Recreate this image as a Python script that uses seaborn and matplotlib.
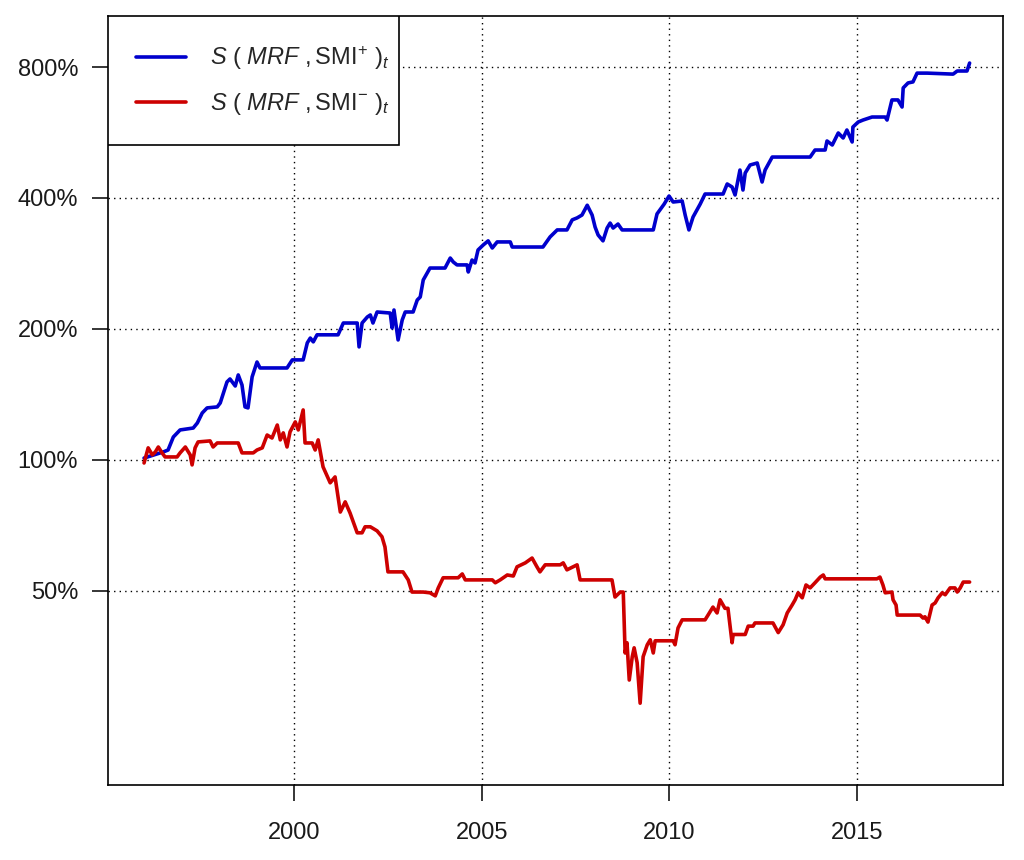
import matplotlib
matplotlib.use("Agg")
import matplotlib.pyplot as plt
from matplotlib.patches import Rectangle
from matplotlib.ticker import NullLocator
import pandas as pd
import seaborn as sns

# cumulative value of the two strategies, in percent of the starting value
plus_years = [1996.00, 1996.51, 1996.64, 1996.78, 1996.96, 1997.31, 1997.42, 1997.55, 1997.68, 1997.95,
              1998.03, 1998.21, 1998.29, 1998.43, 1998.51, 1998.61, 1998.69, 1998.77, 1998.88, 1999.01,
              1999.09, 1999.81, 1999.95, 2000.24, 2000.35, 2000.43, 2000.51, 2000.61, 2001.17, 2001.31,
              2001.68, 2001.73, 2001.81, 2001.95, 2002.03, 2002.10, 2002.21, 2002.56, 2002.61, 2002.66,
              2002.77, 2002.88, 2002.96, 2003.17, 2003.28, 2003.36, 2003.44, 2003.62, 2004.02, 2004.16,
              2004.24, 2004.34, 2004.61, 2004.64, 2004.74, 2004.82, 2004.90, 2005.04, 2005.17, 2005.28,
              2005.41, 2005.76, 2005.81, 2006.63, 2006.82, 2007.01, 2007.27, 2007.41, 2007.54, 2007.67,
              2007.81, 2007.94, 2008.02, 2008.10, 2008.23, 2008.34, 2008.42, 2008.50, 2008.63, 2008.74,
              2009.57, 2009.67, 2009.86, 2009.99, 2010.10, 2010.34, 2010.42, 2010.52, 2010.63, 2010.82,
              2010.95, 2011.43, 2011.54, 2011.67, 2011.75, 2011.88, 2011.96, 2012.02, 2012.15, 2012.34,
              2012.47, 2012.55, 2012.74, 2013.75, 2013.88, 2014.15, 2014.20, 2014.34, 2014.50, 2014.63,
              2014.73, 2014.87, 2014.89, 2015.03, 2015.16, 2015.40, 2015.75, 2015.80, 2015.93, 2016.09,
              2016.20, 2016.23, 2016.36, 2016.49, 2016.60, 2016.87, 2017.56, 2017.67, 2017.93, 2018.00]
plus_values = [101.0, 104.3, 105.4, 112.9, 117.2, 118.4, 121.6, 128.2, 131.7, 132.4,
               135.2, 151.1, 153.5, 147.9, 156.8, 148.7, 132.4, 131.7, 155.2, 167.9,
               162.7, 162.7, 169.8, 169.8, 185.8, 190.6, 186.8, 193.9, 193.9, 206.4,
               206.4, 181.9, 206.4, 213.1, 215.4, 206.4, 218.8, 217.6, 201.1, 221.1,
               188.7, 209.8, 218.8, 218.8, 233.1, 236.9, 259.2, 276.1, 276.1, 291.1,
               285.1, 280.7, 280.7, 270.4, 288.1, 283.6, 303.8, 312.0, 318.8, 307.0,
               317.0, 317.0, 308.6, 308.6, 325.5, 337.8, 337.8, 356.3, 360.0, 365.5,
               384.9, 365.5, 342.9, 328.9, 318.8, 341.2, 350.3, 341.2, 348.5, 337.8,
               337.8, 367.7, 387.3, 404.2, 391.6, 393.7, 365.5, 337.8, 361.7, 387.3,
               408.5, 408.5, 430.8, 424.0, 406.4, 463.8, 417.2, 456.6, 476.3, 481.4,
               435.3, 463.8, 496.8, 496.8, 515.6, 515.6, 540.9, 529.5, 564.3, 549.5,
               573.2, 538.0, 582.3, 597.9, 604.3, 614.0, 614.0, 604.3, 672.1, 672.1,
               647.4, 716.2, 735.4, 739.3, 774.6, 774.6, 770.5, 783.3, 783.3, 817.0]

minus_years = [1996.00, 1996.11, 1996.22, 1996.30, 1996.38, 1996.48, 1996.56, 1996.88, 1996.96, 1997.10,
               1997.23, 1997.28, 1997.36, 1997.44, 1997.76, 1997.84, 1997.95, 1998.51, 1998.61, 1998.91,
               1999.01, 1999.15, 1999.28, 1999.41, 1999.55, 1999.63, 1999.71, 1999.81, 1999.89, 2000.03,
               2000.11, 2000.24, 2000.29, 2000.48, 2000.56, 2000.64, 2000.77, 2000.96, 2001.09, 2001.23,
               2001.36, 2001.49, 2001.68, 2001.81, 2001.89, 2002.03, 2002.21, 2002.34, 2002.42, 2002.50,
               2002.90, 2003.04, 2003.14, 2003.44, 2003.62, 2003.76, 2003.84, 2003.97, 2004.37, 2004.48,
               2004.56, 2005.28, 2005.36, 2005.49, 2005.68, 2005.84, 2005.94, 2006.16, 2006.34, 2006.47,
               2006.55, 2006.69, 2007.09, 2007.17, 2007.27, 2007.54, 2007.62, 2008.47, 2008.55, 2008.69,
               2008.77, 2008.82, 2008.87, 2008.93, 2009.01, 2009.06, 2009.14, 2009.22, 2009.30, 2009.41,
               2009.49, 2009.57, 2009.62, 2010.10, 2010.15, 2010.23, 2010.34, 2010.95, 2011.03, 2011.16,
               2011.27, 2011.35, 2011.48, 2011.56, 2011.67, 2011.70, 2012.02, 2012.10, 2012.23, 2012.28,
               2012.76, 2012.90, 2013.03, 2013.14, 2013.27, 2013.35, 2013.43, 2013.54, 2013.64, 2013.75,
               2013.88, 2014.02, 2014.10, 2014.15, 2015.53, 2015.61, 2015.69, 2015.75, 2015.93, 2015.96,
               2016.04, 2016.07, 2016.68, 2016.76, 2016.81, 2016.89, 2017.00, 2017.08, 2017.16, 2017.27,
               2017.35, 2017.48, 2017.61, 2017.67, 2017.75, 2017.83, 2018.00]
minus_values = [98.4, 106.6, 102.7, 104.3, 107.1, 103.8, 101.6, 101.6, 103.8, 107.1,
                102.7, 97.4, 106.6, 110.0, 110.6, 107.1, 109.4, 109.4, 103.8, 103.8,
                105.4, 106.6, 114.1, 112.3, 120.3, 111.2, 115.4, 107.1, 116.0, 122.3,
                117.2, 130.3, 109.4, 109.4, 105.4, 111.2, 96.4, 88.6, 91.4, 75.9,
                80.1, 75.5, 68.0, 68.0, 70.2, 70.2, 68.7, 66.6, 63.1, 55.3,
                55.3, 53.0, 49.7, 49.7, 49.5, 48.7, 50.8, 53.6, 53.6, 54.7,
                53.0, 53.0, 52.2, 53.0, 54.4, 54.1, 56.8, 58.0, 59.5, 56.8,
                55.3, 57.4, 57.4, 58.0, 55.9, 57.4, 53.0, 53.0, 48.4, 49.7,
                49.7, 36.0, 38.0, 31.2, 35.3, 37.0, 34.2, 27.6, 35.3, 37.6,
                38.6, 36.0, 38.4, 38.4, 37.6, 41.1, 42.9, 42.9, 44.0, 45.9,
                44.5, 47.7, 45.6, 45.6, 38.0, 39.7, 39.7, 41.5, 41.5, 42.2,
                42.2, 40.1, 41.8, 44.5, 46.4, 47.7, 49.5, 48.2, 51.6, 50.8,
                52.2, 53.8, 54.4, 53.3, 53.3, 53.8, 51.6, 49.5, 49.7, 47.7,
                46.4, 44.0, 44.0, 43.3, 43.6, 42.4, 46.4, 46.9, 48.2, 49.5,
                49.0, 50.8, 50.8, 49.7, 50.8, 52.4, 52.4]

series_labels = [r"$S\ (\ MRF\ ,\mathrm{SMI}^{+}\ )_t$",
                 r"$S\ (\ MRF\ ,\mathrm{SMI}^{-}\ )_t$"]
series_colors = ["#0000CD", "#CD0000"]
x_ticks = [2000, 2005, 2010, 2015]
y_ticks = [50, 100, 200, 400, 800]
y_tick_labels = ["50%", "100%", "200%", "400%", "800%"]

df = pd.concat([
    pd.DataFrame({"year": plus_years, "value": plus_values, "series": series_labels[0]}),
    pd.DataFrame({"year": minus_years, "value": minus_values, "series": series_labels[1]}),
], ignore_index=True)

sns.set_style("ticks")
plt.rcParams["font.family"] = ["Liberation Sans", "DejaVu Sans"]
plt.rcParams["mathtext.fontset"] = "custom"
plt.rcParams["mathtext.rm"] = "Liberation Sans"
plt.rcParams["mathtext.it"] = "Liberation Sans:italic"

fig = plt.figure(figsize=(10.24, 8.6), dpi=100)
ax = fig.add_axes([0.1055, 0.0872, 0.874, 0.8942])

sns.lineplot(data=df, x="year", y="value", hue="series", hue_order=series_labels,
             palette=series_colors, estimator=None, sort=False, linewidth=2.6,
             legend=False, ax=ax)

ax.set_yscale("log", base=2)
ax.set_xlim(1995.04, 2018.89)
ax.set_ylim(17.9, 1048)
ax.set_xticks(x_ticks)
ax.set_xticklabels([str(t) for t in x_ticks])
ax.set_yticks(y_ticks)
ax.set_yticklabels(y_tick_labels)
ax.yaxis.set_minor_locator(NullLocator())
ax.xaxis.set_minor_locator(NullLocator())
ax.set_xlabel("")
ax.set_ylabel("")

ax.grid(True, color="black", linestyle=(0, (1, 3)), linewidth=1.0)
for s in ax.spines.values():
    s.set_visible(True)
    s.set_color("black")
    s.set_linewidth(1.2)
ax.tick_params(axis="both", direction="out", length=11.5, width=1.1, color="black",
               labelsize=17, labelcolor="#1a1a1a")
ax.tick_params(axis="x", pad=15)
ax.tick_params(axis="y", pad=10)

leg = ax.legend(ax.get_lines()[:2], series_labels, loc="upper left",
                bbox_to_anchor=(0, 1), borderaxespad=0, fancybox=False,
                framealpha=1, edgecolor="black", fontsize=17,
                handlelength=2.1, handletextpad=1.0, labelspacing=0.8,
                borderpad=1.2)

# R keeps a narrow right margin in its legend box: draw the box ourselves
fig.canvas.draw()
bb = leg.get_window_extent().transformed(fig.transFigure.inverted())
trim = 18 / fig.bbox.width
leg.set_frame_on(False)
box = Rectangle((bb.x0, bb.y0), bb.width - trim, bb.height, transform=fig.transFigure,
                facecolor="white", edgecolor="black", linewidth=1.2, zorder=4.5)
ax.add_patch(box)

fig.savefig("out.png", dpi=100)
